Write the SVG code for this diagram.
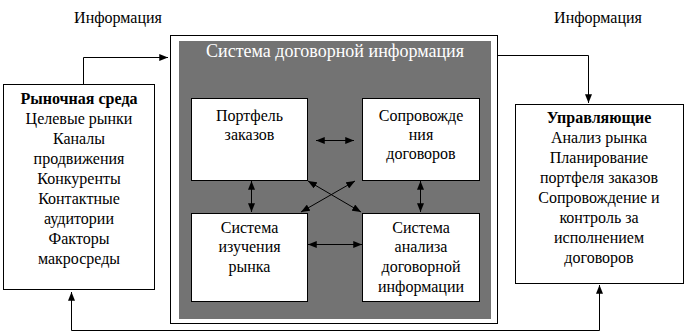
<svg xmlns="http://www.w3.org/2000/svg" width="686" height="332" viewBox="0 0 686 332">
<defs>
<style>
text{font-family:"Liberation Serif","DejaVu Serif","Times New Roman",serif;font-size:16px;fill:#000;text-anchor:middle}
.b{font-weight:bold}
.w{fill:#fff;font-size:18px}
.box{fill:#fff;stroke:#000;stroke-width:1}
.ln{fill:none;stroke:#000;stroke-width:1}
</style>
<marker id="ah" viewBox="0 0 10 8" refX="10" refY="4" markerWidth="9" markerHeight="7" markerUnits="userSpaceOnUse" orient="auto-start-reverse">
<path d="M0,0 L10,4 L0,8 Z" fill="#000"/>
</marker>
</defs>
<rect width="686" height="332" fill="#fff"/>
<text x="118" y="23" font-family="Liberation Serif, serif">Информация</text>
<text x="598" y="23" font-family="Liberation Serif, serif">Информация</text>
<g id="system">
<rect class="box" x="170.5" y="35.5" width="327" height="288"/>
<rect x="179" y="41" width="312" height="278" fill="#737373"/>
<text class="w" x="335" y="57">Система договорной информация</text>
</g>
<g id="market">
<rect class="box" x="3.5" y="84.5" width="151" height="205"/>
<text class="b" x="79" y="104">Рыночная среда</text>
<text x="79" y="124">Целевые рынки</text>
<text x="79" y="144">Каналы</text>
<text x="79" y="164">продвижения</text>
<text x="79" y="184">Конкуренты</text>
<text x="79" y="204">Контактные</text>
<text x="79" y="224">аудитории</text>
<text x="79" y="244">Факторы</text>
<text x="79" y="264">макросреды</text>
</g>
<g id="managers">
<rect class="box" x="515.5" y="104.5" width="168" height="179"/>
<text class="b" x="599" y="123">Управляющие</text>
<text x="599" y="143">Анализ рынка</text>
<text x="599" y="163">Планирование</text>
<text x="599" y="183">портфеля заказов</text>
<text x="599" y="203">Сопровождение и</text>
<text x="599" y="223">контроль за</text>
<text x="599" y="243">исполнением</text>
<text x="599" y="263">договоров</text>
</g>
<g id="portfolio">
<rect class="box" x="191.5" y="98.5" width="116" height="82"/>
<text x="249.5" y="121">Портфель</text>
<text x="249.5" y="140">заказов</text>
</g>
<g id="support">
<rect class="box" x="362.5" y="98.5" width="117" height="82"/>
<text x="421" y="121">Сопровожде</text>
<text x="421" y="140">ния</text>
<text x="421" y="159">договоров</text>
</g>
<g id="research">
<rect class="box" x="191.5" y="213.5" width="116" height="88"/>
<text x="249.5" y="233">Система</text>
<text x="249.5" y="252">изучения</text>
<text x="249.5" y="272">рынка</text>
</g>
<g id="analysis">
<rect class="box" x="362.5" y="213.5" width="117" height="88"/>
<text x="421" y="233">Система</text>
<text x="421" y="252">анализа</text>
<text x="421" y="272">договорной</text>
<text x="421" y="292">информации</text>
</g>
<g id="connectors">
<path class="ln" d="M316,140.5 H354" marker-start="url(#ah)" marker-end="url(#ah)"/>
<path class="ln" d="M308,244.5 H362" marker-start="url(#ah)" marker-end="url(#ah)"/>
<path class="ln" d="M251.5,181 V212" marker-start="url(#ah)" marker-end="url(#ah)"/>
<path class="ln" d="M420.5,181 V212" marker-start="url(#ah)" marker-end="url(#ah)"/>
<path class="ln" d="M308,181 L361,212" marker-start="url(#ah)" marker-end="url(#ah)"/>
<path class="ln" d="M355,181 L301,212" marker-start="url(#ah)" marker-end="url(#ah)"/>
<path class="ln" d="M83.5,84 V57.5 H168" marker-end="url(#ah)"/>
<path class="ln" d="M498,55.5 H588.5 V103" marker-end="url(#ah)"/>
<path class="ln" d="M71.5,292 V330.5 H599.5 V285" marker-start="url(#ah)" marker-end="url(#ah)"/>
</g>
</svg>
